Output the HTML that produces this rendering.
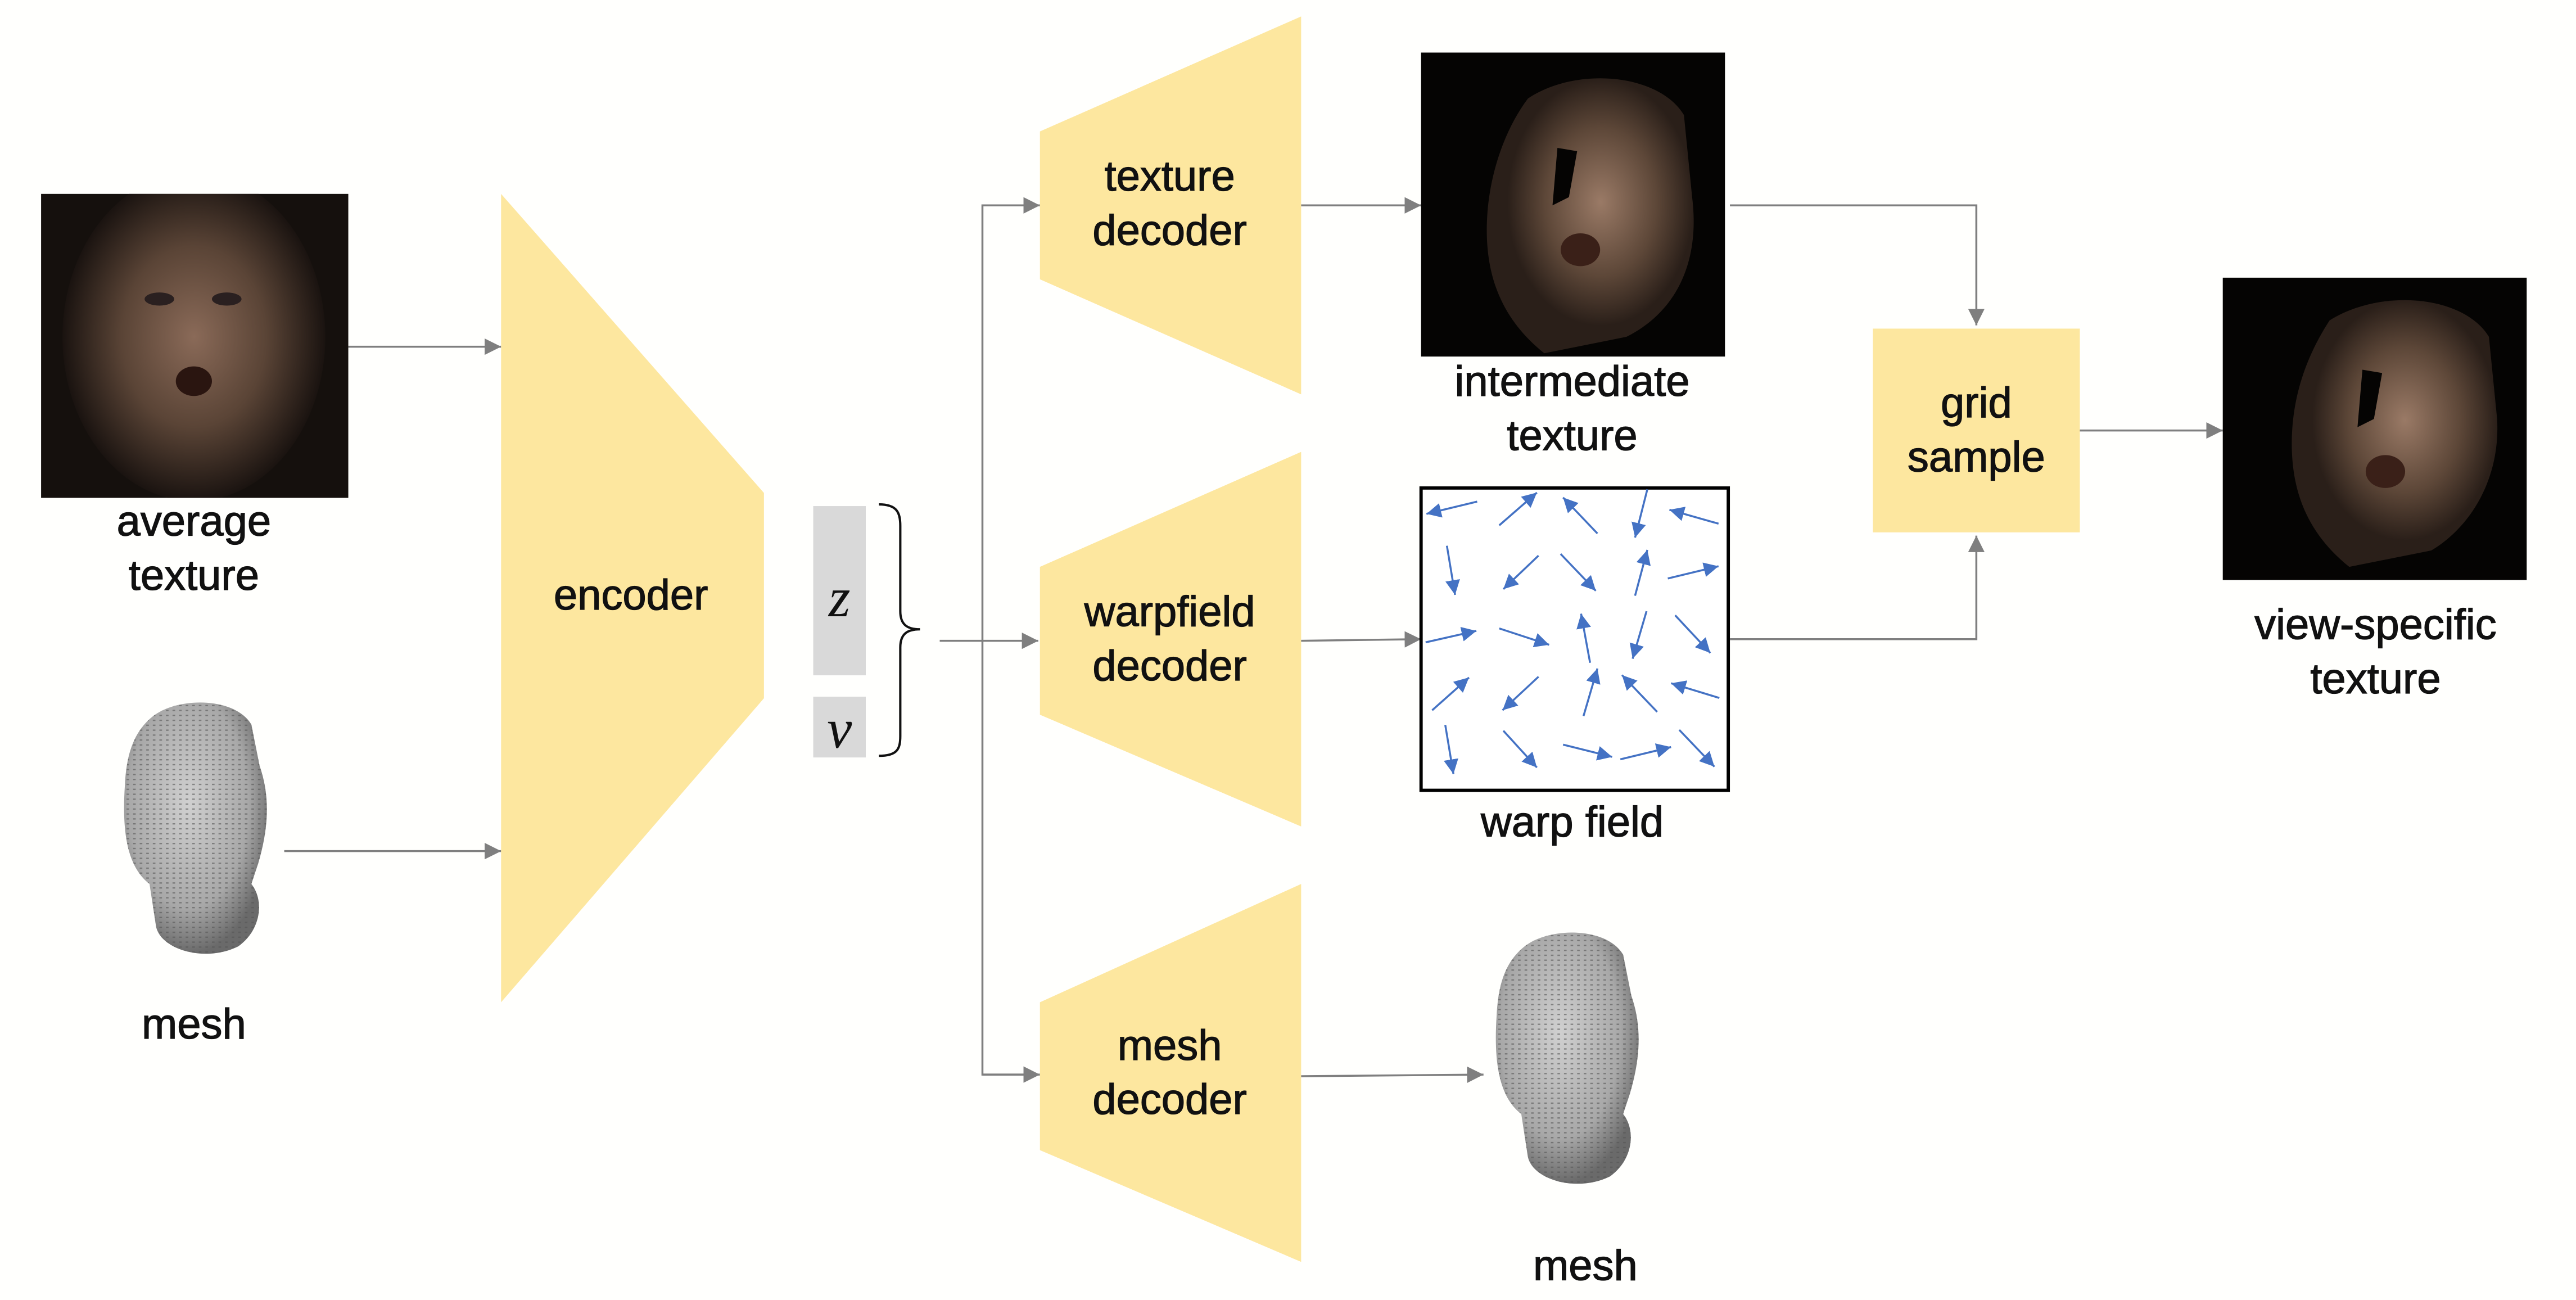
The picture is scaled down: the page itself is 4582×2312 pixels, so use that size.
<!DOCTYPE html>
<html><head><meta charset="utf-8"><style>
html,body{margin:0;padding:0;background:#fffffd;}
svg{display:block}
text{font-family:"Liberation Sans","DejaVu Sans",sans-serif;fill:#111;stroke:#111;stroke-width:0.45;}
text.m{stroke-width:0;}
</style></head><body>
<svg width="4582" height="2312" viewBox="0 0 1568 791.2" xmlns="http://www.w3.org/2000/svg">
<defs>
<marker id="ah" viewBox="0 0 10 10" refX="10" refY="5" markerWidth="10" markerHeight="10" markerUnits="userSpaceOnUse" orient="auto"><path d="M0,0L10,5L0,10Z" fill="#7f7f7f"/></marker>
<marker id="bh" viewBox="0 0 10 10" refX="10" refY="5" markerWidth="18" markerHeight="18" markerUnits="userSpaceOnUse" orient="auto"><path d="M0,0L10,5L0,10Z" fill="#4472c4"/></marker>
<radialGradient id="face" cx="0.5" cy="0.5" r="0.5">
<stop offset="0" stop-color="#8a6a58"/><stop offset="0.55" stop-color="#5a4436"/><stop offset="1" stop-color="#1a1310"/></radialGradient>
<radialGradient id="face2" cx="0.55" cy="0.45" r="0.45">
<stop offset="0" stop-color="#9a7a66"/><stop offset="0.6" stop-color="#5d4738"/><stop offset="1" stop-color="#2a1f19"/></radialGradient>
<radialGradient id="headg" cx="0.45" cy="0.4" r="0.6">
<stop offset="0" stop-color="#d0d0d0"/><stop offset="0.7" stop-color="#a8a8a8"/><stop offset="1" stop-color="#6a6a6a"/></radialGradient>
<pattern id="dots" width="4" height="3" patternUnits="userSpaceOnUse"><rect x="0" y="0" width="1.6" height="0.8" fill="#555" opacity="0.6"/></pattern>
<clipPath id="c1"><rect x="25" y="118" width="187" height="185"/></clipPath>
<clipPath id="c2"><rect x="865" y="32" width="185" height="185"/></clipPath>
<clipPath id="c3"><rect x="1353" y="169" width="185" height="184"/></clipPath>
<symbol id="head" viewBox="0 0 90 160">
<path d="M20,10 C35,-2 70,-2 80,15 L85,40 C92,60 90,80 84,100 L80,112 C88,122 86,140 72,150 C52,160 25,152 22,138 L18,112 C5,102 1,82 3,52 C4,30 10,18 20,10Z" fill="url(#headg)"/>
<path d="M20,10 C35,-2 70,-2 80,15 L85,40 C92,60 90,80 84,100 L80,112 C88,122 86,140 72,150 C52,160 25,152 22,138 L18,112 C5,102 1,82 3,52 C4,30 10,18 20,10Z" fill="url(#dots)"/>
</symbol>
</defs>

<!-- average texture -->
<rect x="25" y="118" width="187" height="185" fill="#15100d"/>
<g clip-path="url(#c1)">
<ellipse cx="118" cy="205" rx="80" ry="100" fill="url(#face)"/>
<ellipse cx="118" cy="232" rx="11" ry="9" fill="#2a1510"/>
<ellipse cx="97" cy="182" rx="9" ry="4" fill="#2a2020"/><ellipse cx="138" cy="182" rx="9" ry="4" fill="#2a2020"/>
</g>
<text x="118" y="326" font-size="26" text-anchor="middle">average</text>
<text x="118" y="359" font-size="26" text-anchor="middle">texture</text>

<!-- mesh left -->
<use href="#head" x="72" y="426" width="92" height="160"/>
<text x="118" y="632" font-size="26" text-anchor="middle">mesh</text>

<line x1="212" y1="211" x2="305" y2="211" stroke="#7f7f7f" stroke-width="1.2" marker-end="url(#ah)"/>
<line x1="173" y1="518" x2="305" y2="518" stroke="#7f7f7f" stroke-width="1.2" marker-end="url(#ah)"/>

<polygon points="305,118 465,300 465,425 305,610" fill="#fde79f"/>
<text x="384" y="371" font-size="26" text-anchor="middle">encoder</text>

<rect x="495" y="308" width="32" height="103" fill="#d9d9d9"/>
<rect x="495" y="424" width="32" height="37" fill="#d9d9d9"/>
<text class="m" x="511" y="375" font-size="34" text-anchor="middle" font-style="italic" style="font-family:'Liberation Serif',serif">z</text>
<text class="m" x="511" y="455" font-size="34" text-anchor="middle" font-style="italic" style="font-family:'Liberation Serif',serif">v</text>
<path d="M535,307 C546,307 548,312 548,320 L548,372 C548,380 552,383 560,383 C552,383 548,386 548,394 L548,448 C548,456 546,460 535,460" fill="none" stroke="#111" stroke-width="1.4"/>

<line x1="572" y1="390" x2="632" y2="390" stroke="#7f7f7f" stroke-width="1.2" marker-end="url(#ah)"/>
<polyline points="632,125 598,125 598,654 632,654" fill="none" stroke="#7f7f7f" stroke-width="1.2"/>
<line x1="598" y1="125" x2="633" y2="125" stroke="#7f7f7f" stroke-width="1.2" marker-end="url(#ah)"/>
<line x1="598" y1="654" x2="633" y2="654" stroke="#7f7f7f" stroke-width="1.2" marker-end="url(#ah)"/>

<polygon points="633,80 792,10 792,240 633,170" fill="#fde79f"/>
<text x="712" y="116" font-size="26" text-anchor="middle">texture</text>
<text x="712" y="149" font-size="26" text-anchor="middle">decoder</text>
<polygon points="633,345 792,275 792,503 633,435" fill="#fde79f"/>
<text x="712" y="381" font-size="26" text-anchor="middle">warpfield</text>
<text x="712" y="414" font-size="26" text-anchor="middle">decoder</text>
<polygon points="633,610 792,538 792,768 633,700" fill="#fde79f"/>
<text x="712" y="645" font-size="26" text-anchor="middle">mesh</text>
<text x="712" y="678" font-size="26" text-anchor="middle">decoder</text>

<line x1="792" y1="125" x2="865" y2="125" stroke="#7f7f7f" stroke-width="1.2" marker-end="url(#ah)"/>
<line x1="792" y1="390" x2="865" y2="389" stroke="#7f7f7f" stroke-width="1.2" marker-end="url(#ah)"/>
<line x1="792" y1="655" x2="903" y2="654" stroke="#7f7f7f" stroke-width="1.2" marker-end="url(#ah)"/>

<rect x="865" y="32" width="185" height="185" fill="#050403"/>
<g clip-path="url(#c2)">
<path d="M930,60 C960,40 1010,45 1025,70 L1030,120 C1035,160 1020,190 990,205 L940,215 C915,195 905,170 905,140 C905,110 915,80 930,60Z" fill="url(#face2)"/>
<path d="M948,90 L960,92 L955,120 L945,125Z" fill="#050403"/>
<ellipse cx="962" cy="152" rx="12" ry="10" fill="#3a2018"/>
</g>
<text x="957" y="241" font-size="26" text-anchor="middle">intermediate</text>
<text x="957" y="274" font-size="26" text-anchor="middle">texture</text>

<rect x="865" y="297" width="187" height="184" fill="#fff" stroke="#000" stroke-width="2"/>
<g transform="translate(787.1,0) scale(0.498)" stroke="#4472c4" stroke-width="2.4" marker-end="url(#bh)">
<line x1="225" y1="613" x2="163" y2="628"/><line x1="252" y1="642" x2="298" y2="602"/><line x1="372" y1="652" x2="330" y2="608"/><line x1="433" y1="598" x2="418" y2="657"/><line x1="520" y1="640" x2="460" y2="623"/>
<line x1="188" y1="667" x2="198" y2="727"/><line x1="300" y1="679" x2="257" y2="720"/><line x1="327" y1="677" x2="370" y2="722"/><line x1="418" y1="728" x2="433" y2="672"/><line x1="458" y1="707" x2="520" y2="692"/>
<line x1="162" y1="785" x2="224" y2="771"/><line x1="252" y1="768" x2="313" y2="788"/><line x1="363" y1="810" x2="352" y2="750"/><line x1="432" y1="747" x2="415" y2="805"/><line x1="467" y1="752" x2="510" y2="798"/>
<line x1="170" y1="868" x2="215" y2="828"/><line x1="300" y1="827" x2="256" y2="868"/><line x1="355" y1="875" x2="372" y2="817"/><line x1="445" y1="870" x2="402" y2="825"/><line x1="521" y1="853" x2="462" y2="835"/>
<line x1="186" y1="886" x2="196" y2="946"/><line x1="257" y1="893" x2="298" y2="938"/><line x1="330" y1="910" x2="390" y2="925"/><line x1="400" y1="928" x2="462" y2="913"/><line x1="472" y1="892" x2="515" y2="937"/>
</g>
<text x="957" y="509" font-size="26" text-anchor="middle">warp field</text>

<use href="#head" x="908" y="556" width="90" height="180"/>
<text x="965" y="779" font-size="26" text-anchor="middle">mesh</text>

<polyline points="1053,125 1203,125 1203,198" fill="none" stroke="#7f7f7f" stroke-width="1.2" marker-end="url(#ah)"/>
<polyline points="1053,389 1203,389 1203,326" fill="none" stroke="#7f7f7f" stroke-width="1.2" marker-end="url(#ah)"/>
<rect x="1140" y="200" width="126" height="124" fill="#fde79f"/>
<text x="1203" y="254" font-size="26" text-anchor="middle">grid</text>
<text x="1203" y="287" font-size="26" text-anchor="middle">sample</text>
<line x1="1266" y1="262" x2="1353" y2="262" stroke="#7f7f7f" stroke-width="1.2" marker-end="url(#ah)"/>

<rect x="1353" y="169" width="185" height="184" fill="#050403"/>
<g clip-path="url(#c3)">
<path d="M1418,195 C1450,175 1500,180 1515,205 L1520,255 C1522,290 1505,320 1480,335 L1430,345 C1405,325 1395,300 1395,270 C1395,240 1405,215 1418,195Z" fill="url(#face2)"/>
<path d="M1438,225 L1450,227 L1445,255 L1435,260Z" fill="#050403"/>
<ellipse cx="1452" cy="287" rx="12" ry="10" fill="#3a2018"/>
</g>
<text x="1446" y="389" font-size="26" text-anchor="middle">view-specific</text>
<text x="1446" y="422" font-size="26" text-anchor="middle">texture</text>
</svg>
</body></html>
